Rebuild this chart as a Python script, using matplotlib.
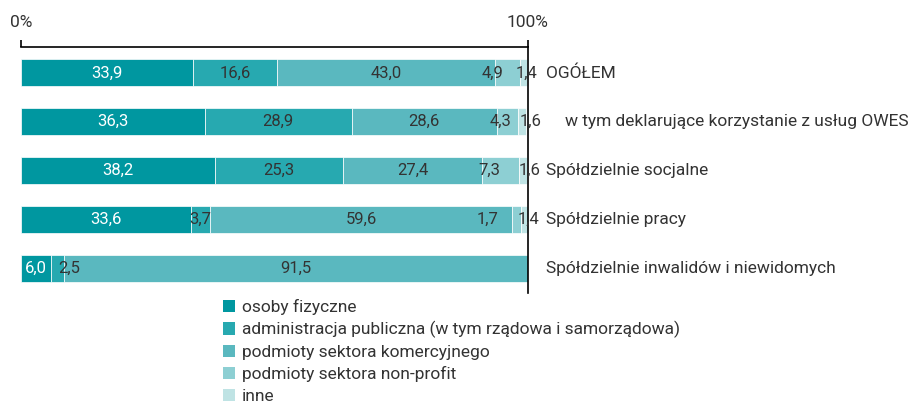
import matplotlib.pyplot as plt
from matplotlib.patches import Patch

# data
rows = ["OGÓŁEM",
        "w tym deklarujące korzystanie z usług OWES",
        "Spółdzielnie socjalne",
        "Spółdzielnie pracy",
        "Spółdzielnie inwalidów i niewidomych"]
series = ["osoby fizyczne",
          "administracja publiczna (w tym rządowa i samorządowa)",
          "podmioty sektora komercyjnego",
          "podmioty sektora non-profit",
          "inne"]
osoby = [33.9, 36.3, 38.2, 33.6, 6.0]
administracja = [16.6, 28.9, 25.3, 3.7, 2.5]
komercyjne = [43.0, 28.6, 27.4, 59.6, 91.5]
non_profit = [4.9, 4.3, 7.3, 1.7, 0.0]
inne = [1.4, 1.6, 1.6, 1.4, 0.0]
values = [osoby, administracja, komercyjne, non_profit, inne]

colors = ["#0097a0", "#27a9b0", "#5ab8bf", "#8dcfd3", "#bfe3e4"]
text_dark = "#333333"

# label nudges (pixels) for crowded small segments
nudge = {(0, 3): -15, (0, 4): 3, (1, 3): -7, (1, 4): 8, (2, 3): -11,
         (2, 4): 7, (3, 3): -29, (3, 4): 4, (4, 1): 11}
row_label_offset = [18, 37, 18, 18, 18]

plt.rcParams['font.family'] = ['Roboto', 'DejaVu Sans']
fs = 12.5

fig = plt.figure(figsize=(9.12, 4.05), dpi=100)
ax = fig.add_axes([21 / 912, 1 - 293 / 405, 507 / 912, 246 / 405])

y = list(range(len(rows)))
left = [0.0] * len(rows)
for j, vals in enumerate(values):
    ax.barh(y, vals, left=left, height=0.55, color=colors[j],
            edgecolor="white", linewidth=0.5)
    for i, v in enumerate(vals):
        if v > 0:
            ax.annotate(f"{v:.1f}".replace(".", ","),
                        xy=(left[i] + v / 2, i),
                        xytext=(nudge.get((i, j), 0), 0), textcoords="offset pixels",
                        ha="center", va="center", fontsize=fs - 0.5,
                        color="white" if j == 0 else text_dark)
    left = [a + b for a, b in zip(left, vals)]

for i, r in enumerate(rows):
    ax.annotate(r, xy=(1, i), xycoords=ax.get_yaxis_transform(),
                xytext=(row_label_offset[i], 0), textcoords="offset pixels",
                ha="left", va="center", fontsize=fs, color=text_dark,
                annotation_clip=False)

ax.set_xlim(0, 100)
ax.set_ylim(4.5, -0.53)
ax.xaxis.tick_top()
ax.set_xticks([0, 100])
ax.set_xticklabels(["0%", "100%"], fontsize=fs, color=text_dark)
ax.tick_params(axis="x", direction="out", length=5, width=1.2, pad=7, color="black")
ax.set_yticks([])
for s in ["left", "bottom"]:
    ax.spines[s].set_visible(False)
ax.spines["top"].set_linewidth(1.2)
ax.spines["right"].set_linewidth(1.2)

handles = [Patch(facecolor=c, edgecolor="none") for c in colors]
fig.legend(handles, series, loc="upper left", bbox_to_anchor=(216 / 912, 1 - 292 / 405),
           frameon=False, fontsize=fs, handlelength=0.72, handleheight=0.72,
           handletextpad=0.35, labelspacing=0.36, borderaxespad=0,
           labelcolor=text_dark)

fig.savefig("out.png", dpi=100)
